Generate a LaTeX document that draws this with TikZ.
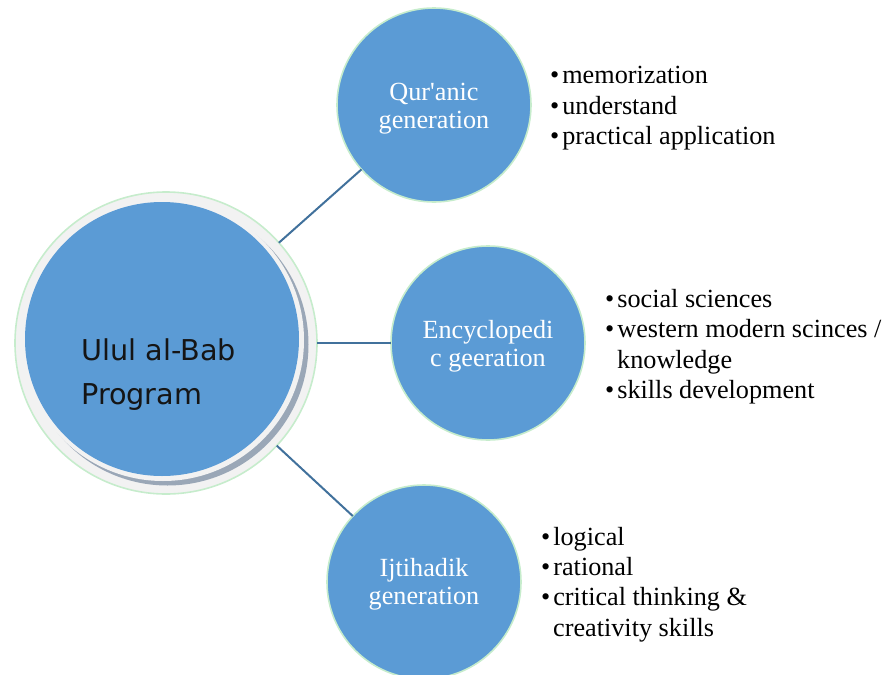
\documentclass[tikz,border=0pt]{standalone}
\usepackage{fontspec}
\setmainfont{Liberation Serif}[Ligatures=TeXOff]
\newfontfamily\ululfont{DejaVu Sans}
\definecolor{nodeblue}{HTML}{5B9BD5}
\definecolor{ringgreen}{RGB}{198,236,204}
\definecolor{linkblue}{HTML}{41719C}
\definecolor{ringgray}{HTML}{F2F2F2}
\definecolor{shadowgray}{HTML}{9AA7B7}
\definecolor{darktext}{HTML}{151515}
\begin{document}
\begin{tikzpicture}[x=1pt,y=-1pt,
  gen/.style={circle, minimum size=194pt, inner sep=0pt, outer sep=0pt, fill=nodeblue, draw=ringgreen, line width=1.6pt},
  gentext/.style={inner sep=0pt, text=white, align=center, font=\fontsize{26.2}{27.5}\selectfont},
  link/.style={draw=linkblue, line width=2pt},
  item/.style={anchor=base west, inner sep=0pt, font=\fontsize{26.2}{30}\selectfont},
]
\useasboundingbox (0,0) rectangle (887,675);
% central circle
\node[circle, minimum size=302pt, inner sep=0pt, outer sep=0pt, fill=ringgray, draw=ringgreen, line width=1.6pt] (ulul) at (166,343) {};
\fill[shadowgray] (167.5,344.5) circle[radius=141];
\fill[ringgray] (163,340) circle[radius=141];
\fill[nodeblue] (162,339) circle[radius=137];
\node[anchor=west, inner sep=0pt, align=left, text=darktext, font=\ululfont\fontsize{28.7}{44}\selectfont] (ulultext) at (81,374.4) {Ulul al-Bab\\Program};
% generation circles
\node[gen] (quran) at (434,105) {};
\node[gen] (ency) at (488,343) {};
\node[gen] (ijti) at (424,582) {};
\node[gentext] (qurantext) at ([yshift=-3.5pt]quran.center) {Qur'anic\\generation};
\node[gentext] (encytext) at ([yshift=-3pt]ency.center) {Encyclopedi\\c geeration};
\node[gentext] (ijtitext) at ([yshift=-2pt]ijti.center) {Ijtihadik\\generation};
% connectors
\draw[link] (ulul) -- (quran);
\draw[link] (ulul) -- (ency);
\draw[link] (ulul) -- (ijti);
% lists
\node[item] (q1) at (550,83) {•\hspace{3pt}memorization};
\node[item] (q2) at (550,114) {•\hspace{3pt}understand};
\node[item] (q3) at (550,144) {•\hspace{3pt}practical application};
\node[item] (e1) at (605,307) {•\hspace{3pt}social sciences};
\node[item] (e2) at (605,337) {•\hspace{3pt}western modern scinces /};
\node[item] (e2b) at (617,368) {knowledge};
\node[item] (e3) at (605,398) {•\hspace{3pt}skills development};
\node[item] (i1) at (541,545) {•\hspace{3pt}logical};
\node[item] (i2) at (541,575) {•\hspace{3pt}rational};
\node[item] (i3) at (541,605) {•\hspace{3pt}critical thinking \&};
\node[item] (i3b) at (553,636) {creativity skills};
\end{tikzpicture}
\end{document}
